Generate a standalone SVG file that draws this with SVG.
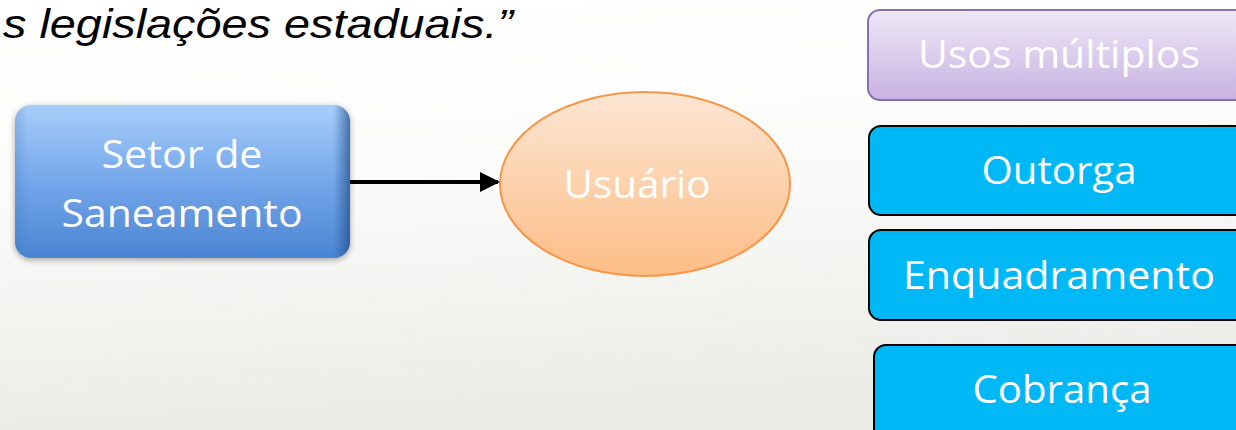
<svg xmlns="http://www.w3.org/2000/svg" width="1236" height="430" viewBox="0 0 1236 430">
  <defs>
    <linearGradient id="bg" x1="0" y1="0" x2="0.15" y2="1">
      <stop offset="0" stop-color="#ffffff"/>
      <stop offset="0.45" stop-color="#fbfbfa"/>
      <stop offset="1" stop-color="#ebebe6"/>
    </linearGradient>
    <linearGradient id="blueFill" x1="0" y1="0" x2="0" y2="1">
      <stop offset="0" stop-color="#a8cefa"/>
      <stop offset="0.5" stop-color="#74a6ea"/>
      <stop offset="1" stop-color="#4a85d2"/>
    </linearGradient>
    <linearGradient id="blueEdge" x1="0" y1="0" x2="1" y2="0">
      <stop offset="0" stop-color="#3a6fb0" stop-opacity="0.25"/>
      <stop offset="0.04" stop-color="#3a6fb0" stop-opacity="0"/>
      <stop offset="0.95" stop-color="#2a5a9a" stop-opacity="0"/>
      <stop offset="1" stop-color="#1f4a85" stop-opacity="0.7"/>
    </linearGradient>
    <linearGradient id="orangeFill" x1="0" y1="0" x2="0" y2="1">
      <stop offset="0" stop-color="#fde6d4"/>
      <stop offset="1" stop-color="#fcbd86"/>
    </linearGradient>
    <linearGradient id="purpleFill" x1="0" y1="0" x2="0" y2="1">
      <stop offset="0" stop-color="#eee8f7"/>
      <stop offset="1" stop-color="#c8b2e2"/>
    </linearGradient>
    <filter id="soft" x="-10%" y="-10%" width="120%" height="125%">
      <feGaussianBlur in="SourceAlpha" stdDeviation="3"/>
      <feOffset dy="2"/>
      <feComponentTransfer><feFuncA type="linear" slope="0.35"/></feComponentTransfer>
      <feMerge><feMergeNode/><feMergeNode in="SourceGraphic"/></feMerge>
    </filter>
    <marker id="arrowHead" markerWidth="5" markerHeight="5" refX="4.5" refY="2.5" orient="auto" markerUnits="strokeWidth">
      <path d="M0,0 L5,2.5 L0,5 Z" fill="#000000"/>
    </marker>
  </defs>
  <style>
    .lbl { font-family: "Open Sans", "Noto Sans", "Liberation Sans", sans-serif; font-size: 39px; fill: #ffffff; text-anchor: middle; }
    .cyan { fill: #00b8f6; stroke: #000000; stroke-width: 2; }
    .quote { font-family: "Liberation Sans", "Open Sans", sans-serif; font-style: italic; font-size: 40px; fill: #000000; }
  </style>

  <!-- slide background -->
  <rect x="0" y="0" width="1236" height="430" fill="url(#bg)"/>

  <!-- tail of the quotation -->
  <text class="quote" x="3" y="38" textLength="510" lengthAdjust="spacingAndGlyphs">s legislações estaduais.”</text>

  <g id="setor-saneamento">
    <rect x="15" y="105" width="335" height="153" rx="16" fill="url(#blueFill)" filter="url(#soft)"/>
    <rect x="15" y="105" width="335" height="153" rx="16" fill="url(#blueEdge)"/>
    <text class="lbl" x="182" y="168" textLength="161" lengthAdjust="spacingAndGlyphs">Setor de</text>
    <text class="lbl" x="182" y="227" textLength="241" lengthAdjust="spacingAndGlyphs">Saneamento</text>
  </g>

  <g id="usuario">
    <ellipse cx="645" cy="184" rx="145" ry="92" fill="url(#orangeFill)" stroke="#f79646" stroke-width="2"/>
    <text class="lbl" x="637" y="198" textLength="147" lengthAdjust="spacingAndGlyphs">Usuário</text>
  </g>

  <g id="usos-multiplos">
    <rect x="868" y="10" width="380" height="90" rx="12" fill="url(#purpleFill)" stroke="#8a6fb0" stroke-width="2"/>
    <text class="lbl" x="1059" y="68" textLength="282" lengthAdjust="spacingAndGlyphs">Usos múltiplos</text>
  </g>

  <g id="outorga">
    <rect class="cyan" x="869" y="126" width="380" height="89" rx="12"/>
    <text class="lbl" x="1059" y="184" textLength="155" lengthAdjust="spacingAndGlyphs">Outorga</text>
  </g>

  <g id="enquadramento">
    <rect class="cyan" x="869" y="230" width="380" height="90" rx="12"/>
    <text class="lbl" x="1059" y="289" textLength="312" lengthAdjust="spacingAndGlyphs">Enquadramento</text>
  </g>

  <g id="cobranca">
    <rect class="cyan" x="874" y="345" width="380" height="100" rx="12"/>
    <text class="lbl" x="1062" y="403" textLength="179" lengthAdjust="spacingAndGlyphs">Cobrança</text>
  </g>

  <g id="connectors">
    <line x1="350" y1="182" x2="498" y2="182" stroke="#000000" stroke-width="4" marker-end="url(#arrowHead)"/>
  </g>
</svg>
